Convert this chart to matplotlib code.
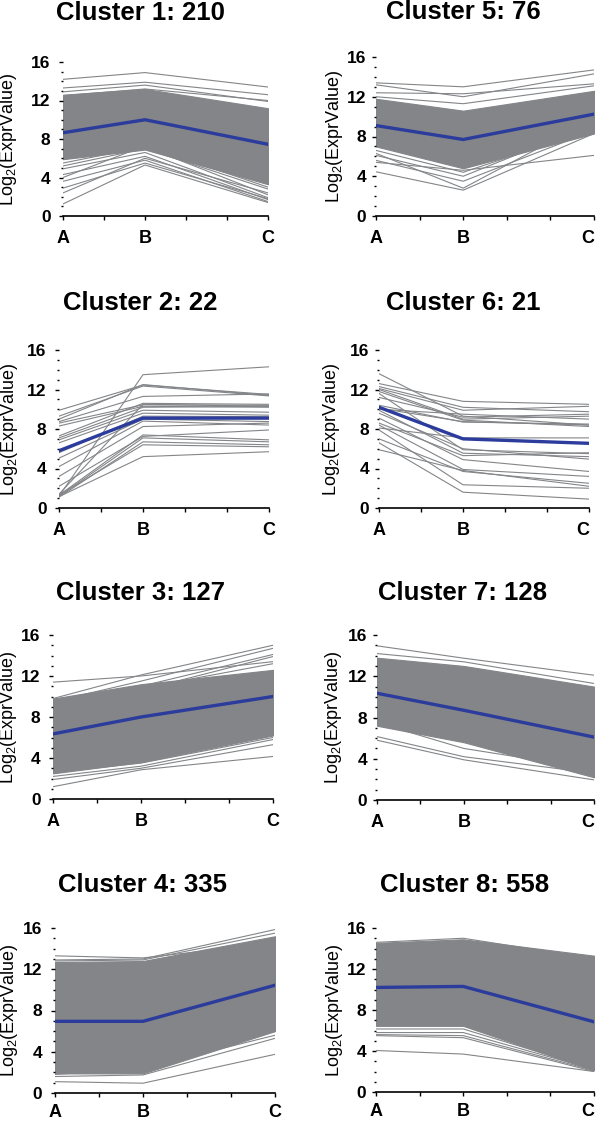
import matplotlib
matplotlib.use("Agg")
import matplotlib.pyplot as plt

plt.rcParams["font.family"] = ["Liberation Sans", "DejaVu Sans"]
plt.rcParams["mathtext.default"] = "regular"

x_pos = [0, 2, 5]
x_labels = ["A", "B", "C"]
gray = "#838588"
blue = "#2b3c9c"

# cluster 1 (210 genes)
c1_mean = [8.65, 10.0, 7.45]
c1_band_lo = [5.9, 6.9, 3.3]
c1_band_hi = [12.6, 13.2, 11.2]
c1_lines = [[14.2, 14.9, 13.4], [13.3, 13.9, 12.6], [12.9, 13.6, 11.9],
            [12.5, 13.2, 12.0], [5.5, 7.2, 2.2], [4.9, 6.6, 1.9],
            [4.3, 6.2, 1.7], [3.6, 5.8, 1.5], [2.9, 5.5, 1.8],
            [2.4, 6.0, 2.4], [1.25, 5.3, 1.4], [5.2, 7.0, 2.8], [4.0, 7.3, 3.0]]

# cluster 5 (76 genes)
c5_mean = [9.1, 7.7, 10.25]
c5_band_lo = [7.0, 4.8, 8.3]
c5_band_hi = [11.8, 10.6, 12.6]
c5_lines = [[13.4, 13.0, 14.7], [13.2, 12.0, 14.3], [12.4, 12.3, 13.3],
            [12.0, 11.3, 13.1], [6.6, 4.4, 8.8], [6.1, 4.0, 9.3],
            [5.6, 3.5, 8.6], [5.4, 4.6, 6.1], [4.45, 2.6, 8.3],
            [6.3, 2.8, 9.8], [7.3, 6.0, 11.2], [8.5, 5.2, 12.0]]

# cluster 2 (22 genes)
c2_mean = [5.8, 9.1, 9.1]
c2_band_lo = None
c2_band_hi = None
c2_lines = [[1.2, 13.5, 14.3], [9.9, 12.45, 11.5], [9.3, 12.35, 11.35],
            [8.75, 11.3, 11.55], [8.6, 10.45, 10.4], [8.3, 10.3, 10.2],
            [7.1, 10.2, 10.3], [6.9, 9.9, 9.7], [6.6, 9.6, 9.4],
            [5.6, 9.3, 9.25], [5.05, 9.0, 8.75], [4.2, 8.8, 8.4],
            [3.2, 8.25, 8.6], [2.2, 7.25, 7.9], [1.3, 7.4, 6.9],
            [1.2, 7.1, 6.7], [1.1, 6.7, 6.4], [1.3, 6.4, 6.2],
            [1.15, 5.2, 5.7], [7.3, 10.6, 10.5], [9.0, 12.5, 11.4],
            [1.4, 10.5, 10.3]]

# cluster 6 (21 genes)
c6_mean = [10.2, 7.0, 6.55]
c6_band_lo = None
c6_band_hi = None
c6_lines = [[13.6, 9.3, 8.4], [12.6, 10.8, 10.5], [12.1, 9.9, 10.3],
            [12.0, 9.0, 9.3], [11.8, 8.9, 8.25], [12.3, 10.2, 9.75],
            [11.6, 5.9, 5.5], [10.1, 8.75, 8.4], [9.9, 5.55, 5.2],
            [9.1, 4.9, 3.7], [8.4, 3.9, 3.2], [8.1, 7.1, 7.1],
            [7.9, 2.35, 2.0], [7.0, 3.7, 2.5], [6.6, 1.6, 0.9],
            [5.9, 3.8, 2.2], [10.4, 8.7, 8.5], [9.6, 6.0, 4.95],
            [10.0, 9.5, 9.0], [11.2, 9.2, 9.5], [8.6, 5.3, 5.6]]

# cluster 3 (127 genes)
c3_mean = [6.35, 8.0, 10.0]
c3_band_lo = [2.5, 3.6, 6.2]
c3_band_hi = [9.8, 11.2, 12.6]
c3_lines = [[11.4, 12.0, 13.4], [9.8, 12.1, 15.0], [9.5, 11.5, 14.7],
            [9.0, 11.0, 14.1], [8.6, 10.6, 13.9], [9.6, 10.8, 13.2],
            [1.2, 2.85, 4.15], [1.9, 3.0, 5.3], [2.2, 3.2, 5.8], [2.6, 3.5, 6.0]]

# cluster 7 (128 genes)
c7_mean = [10.35, 8.7, 6.1]
c7_band_lo = [7.2, 5.6, 2.2]
c7_band_hi = [13.8, 13.0, 11.0]
c7_lines = [[14.95, 13.75, 12.1], [14.2, 13.4, 11.3], [6.15, 4.2, 2.6],
            [5.8, 3.9, 1.95], [7.5, 5.0, 3.0]]

# cluster 4 (335 genes)
c4_mean = [6.95, 6.95, 10.45]
c4_band_lo = [1.9, 1.9, 6.0]
c4_band_hi = [12.7, 12.8, 15.2]
c4_lines = [[13.3, 13.1, 14.55], [12.9, 13.0, 15.85], [12.8, 12.9, 15.5],
            [1.1, 0.95, 3.75], [1.6, 1.75, 5.3], [1.8, 2.4, 5.6]]

# cluster 8 (558 genes)
c8_mean = [10.2, 10.3, 6.85]
c8_band_lo = [6.45, 6.45, 2.1]
c8_band_hi = [14.55, 14.9, 13.3]
c8_lines = [[6.15, 6.15, 2.25], [5.8, 5.8, 2.2], [5.6, 5.5, 2.1],
            [5.5, 5.3, 2.0], [4.05, 3.7, 2.0], [14.6, 15.0, 13.0]]

titles = ["Cluster 1: 210", "Cluster 5: 76", "Cluster 2: 22", "Cluster 6: 21",
          "Cluster 3: 127", "Cluster 7: 128", "Cluster 4: 335", "Cluster 8: 558"]
means = [c1_mean, c5_mean, c2_mean, c6_mean, c3_mean, c7_mean, c4_mean, c8_mean]
bands_lo = [c1_band_lo, c5_band_lo, c2_band_lo, c6_band_lo, c3_band_lo, c7_band_lo, c4_band_lo, c8_band_lo]
bands_hi = [c1_band_hi, c5_band_hi, c2_band_hi, c6_band_hi, c3_band_hi, c7_band_hi, c4_band_hi, c8_band_hi]
lines = [c1_lines, c5_lines, c2_lines, c6_lines, c3_lines, c7_lines, c4_lines, c8_lines]

# panel boxes in pixels: left, right, y of 0, y of 16, title x, title y,
# right edge of the y label
W, H = 600, 1122
boxes = [(63, 268, 216, 62, 140, 13, 19), (376, 594, 216, 57, 463, 12, 345),
         (59, 269, 508, 350, 140, 303, 20), (379, 589, 508, 350, 463, 303, 342),
         (53, 273, 799, 635, 140, 593, 19), (377, 594, 800, 635, 463, 593, 344),
         (55, 275, 1093, 928, 142, 885, 20), (376, 594, 1092, 928, 465, 885, 345)]

fig = plt.figure(figsize=(6, 11.22), dpi=100)

for i in range(8):
    L, R, B, T, tx, ty, lx = boxes[i]
    ax = fig.add_axes([L / W, 1 - B / H, (R - L) / W, (B - T) / H])
    if bands_lo[i] is not None:
        ax.fill_between(x_pos, bands_lo[i], bands_hi[i], color=gray, lw=0.8)
    for ln in lines[i]:
        ax.plot(x_pos, ln, color=gray, lw=0.8)
    ax.plot(x_pos, means[i], color=blue, lw=2.4, zorder=5)

    ax.set_xlim(0, 5)
    ax.set_ylim(0, 16)
    ax.set_xticks([0, 1, 2, 3, 4, 5])
    ax.set_xticklabels(["A", "", "B", "", "", "C"], fontsize=13, fontweight="bold")
    if i % 2 == 1:
        ax.get_xticklabels()[-1].set_ha("right")
    ax.set_yticks([0, 4, 8, 12, 16])
    ax.set_yticklabels(["0", "4", "8", "12", "16"], fontsize=12.5, fontweight="bold")
    ax.set_yticks(range(17), minor=True)
    for s in ["left", "top", "right"]:
        ax.spines[s].set_visible(False)
    ax.spines["bottom"].set_linewidth(1.2)
    ax.tick_params(axis="x", length=3, width=1, pad=5 if i >= 6 else 7)
    ax.tick_params(axis="y", which="major", length=3, width=1,
                   pad=4 if i % 2 == 1 else 6)
    ax.tick_params(axis="y", which="minor", length=1.5, width=1)
    ax.set_ylabel("Log$_2$(ExprValue)", fontsize=13)
    ax.yaxis.set_label_coords((lx - L) / (R - L), 0.5)
    fig.text(tx / W, 1 - ty / H, titles[i], fontsize=18.5, fontweight="bold",
             ha="center", va="center")

fig.savefig("out.png", dpi=100)
